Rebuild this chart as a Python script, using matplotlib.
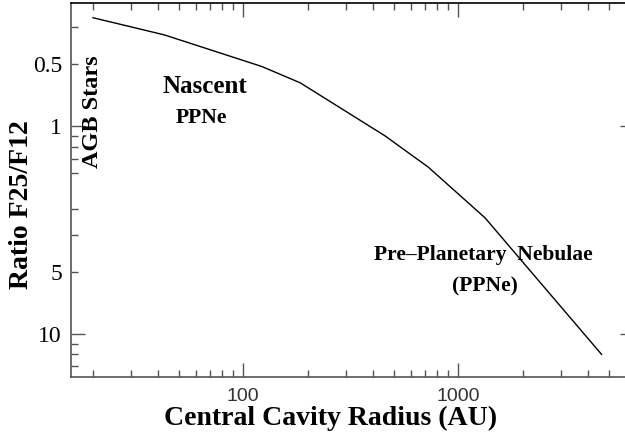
import matplotlib
matplotlib.use("Agg")
import matplotlib.pyplot as plt
from matplotlib.ticker import FixedLocator, FixedFormatter, NullFormatter, NullLocator

# Data
radius_au = [20, 43, 122, 184, 456, 725, 1330, 4640]
ratio_f25_f12 = [0.30, 0.363, 0.515, 0.617, 1.11, 1.57, 2.75, 12.5]

major_ticks = [1, 10]
major_labels = ["1", "10"]
labeled_minor = [0.5, 5]
labeled_minor_labels = ["0.5", "5"]
other_minor = [1/3, 1/0.9, 1/0.8, 1/0.7, 1/0.6, 1/0.4, 1/0.3, 1/0.09, 1/0.08, 1/0.07]

x_major = [100, 1000]
x_major_labels = ["100", "1000"]
x_minor = [20, 30, 40, 50, 60, 70, 80, 90, 200, 300, 400, 500, 600, 700, 800, 900,
           2000, 3000, 4000, 5000]

serif = ["Liberation Serif", "DejaVu Serif"]
sans = ["Liberation Sans", "DejaVu Sans"]

fig = plt.figure(figsize=(6.25, 4.41), dpi=100)
ax = fig.add_axes([71/625, 1 - 376.7/441, (625.6 - 71)/625, (376.7 - 2.7)/441])

ax.plot(radius_au, ratio_f25_f12, color="black", lw=1.0)

ax.set_xscale("log")
ax.set_yscale("log")
ax.set_xlim(15.8, 6000)
ax.set_ylim(16, 0.254)

# y ticks
ax.yaxis.set_major_locator(FixedLocator(major_ticks))
ax.yaxis.set_major_formatter(FixedFormatter(major_labels))
ax.yaxis.set_minor_locator(FixedLocator(labeled_minor + other_minor))
ax.yaxis.set_minor_formatter(FixedFormatter(labeled_minor_labels + [""] * len(other_minor)))

# x ticks
ax.xaxis.set_major_locator(FixedLocator(x_major))
ax.xaxis.set_major_formatter(FixedFormatter(x_major_labels))
ax.xaxis.set_minor_locator(FixedLocator(x_minor))
ax.xaxis.set_minor_formatter(NullFormatter())

tick_col = "#555555"
ax.tick_params(axis="both", which="major", direction="in", length=10, width=1.0,
               color=tick_col, top=True, right=False)
ax.tick_params(axis="both", which="minor", direction="in", length=5, width=1.0,
               color=tick_col, top=True, right=False)
ax.tick_params(axis="y", which="both", pad=6.5, labelsize=17)
ax.tick_params(axis="x", which="both", pad=8, labelsize=14, labelcolor="#333333")
for lab in ax.get_yticklabels(which="both"):
    lab.set_family(serif)
for lab in ax.get_xticklabels(which="both"):
    lab.set_family(sans)

for side in ["left", "bottom"]:
    ax.spines[side].set_color(tick_col)
    ax.spines[side].set_linewidth(1.2)
ax.spines["top"].set_color("black")
ax.spines["top"].set_linewidth(1.2)

# short right-side ticks at the decade marks
sec = ax.secondary_yaxis("right")
sec.yaxis.set_major_locator(FixedLocator(major_ticks))
sec.yaxis.set_minor_locator(NullLocator())
sec.tick_params(which="major", direction="in", length=4, width=1.0, color=tick_col,
                labelright=False)
sec.spines["right"].set_visible(False)

fig.text(22/625, 1 - 205/441, "Ratio F25/F12", rotation=90, ha="center", va="center",
         family=serif, fontweight="bold", fontsize=20)
fig.text(331/625, 1 - 418/441, "Central Cavity Radius (AU)", ha="center", va="center",
         family=serif, fontweight="bold", fontsize=20)

fig.text(92.5/625, 1 - 111.5/441, "AGB Stars", rotation=90, ha="center", va="center",
         family=serif, fontweight="bold", fontsize=17.5)
fig.text(205/625, 1 - 86/441, "Nascent", ha="center", va="center",
         family=serif, fontweight="bold", fontsize=18)
fig.text(201/625, 1 - 118/441, "PPNe", ha="center", va="center",
         family=serif, fontweight="bold", fontsize=15.5)
fig.text(483.5/625, 1 - 255/441, "Pre\u2013Planetary  Nebulae", ha="center", va="center",
         family=serif, fontweight="bold", fontsize=15.5)
fig.text(485/625, 1 - 286/441, "(PPNe)", ha="center", va="center",
         family=serif, fontweight="bold", fontsize=15.5)

fig.savefig("out.png", dpi=100)
